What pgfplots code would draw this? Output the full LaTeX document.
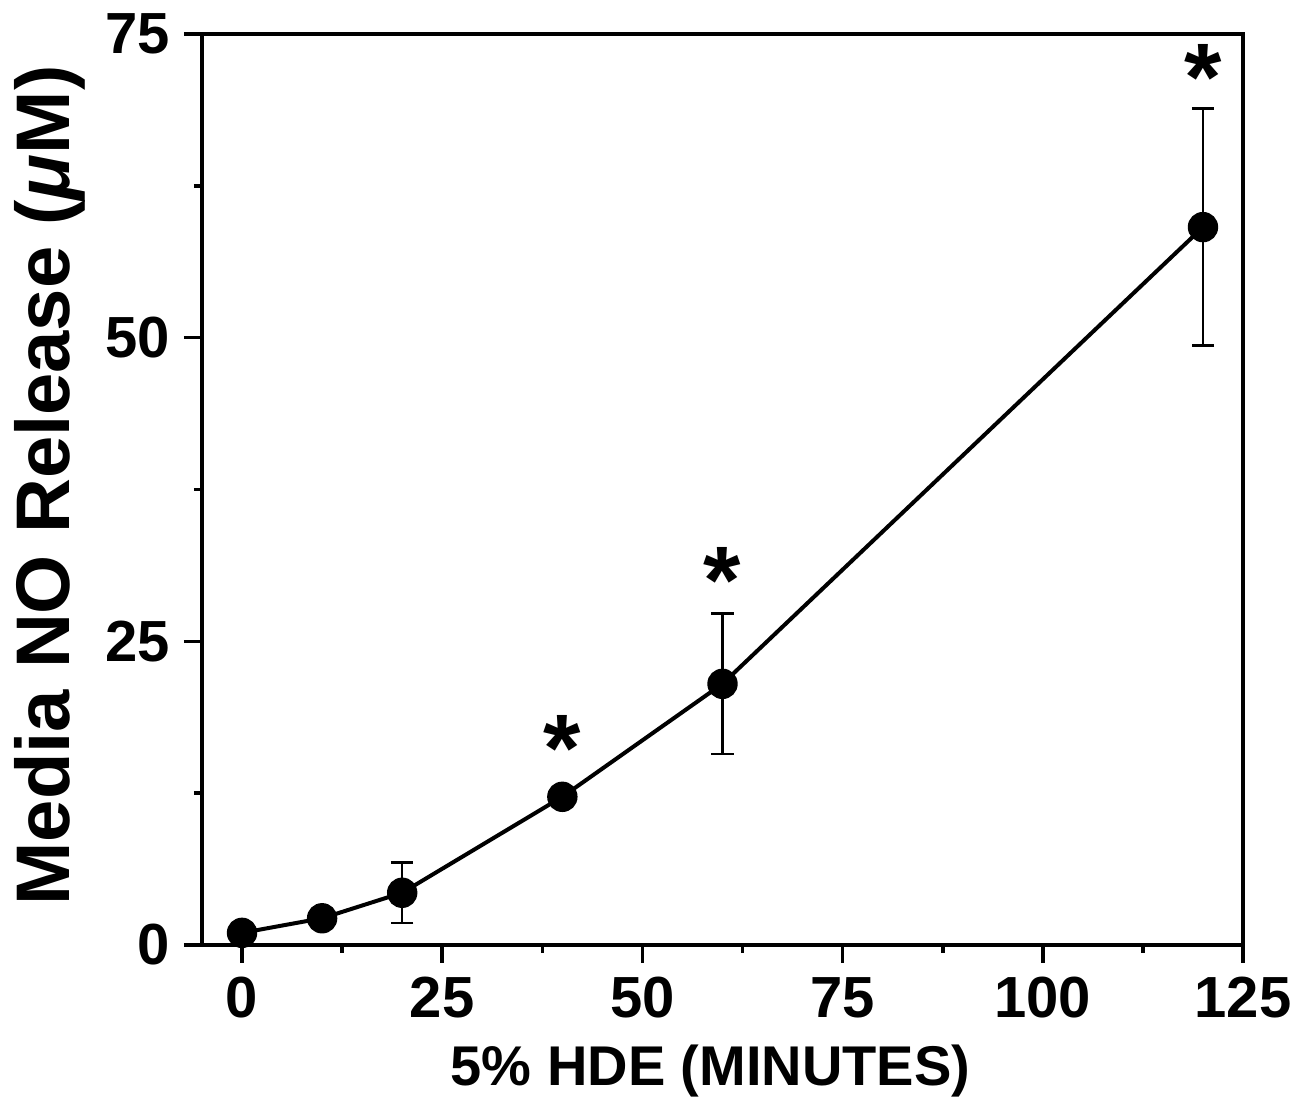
\documentclass[border=0pt]{standalone}
\usepackage{fontspec}
\setmainfont{Liberation Sans}
\usepackage{pgfplots}
\pgfplotsset{compat=1.18}
\begin{document}
\begin{tikzpicture}
\begin{axis}[
  scale only axis,
  width=260.25pt, height=227.75pt,
  xmin=-5, xmax=125, ymin=0, ymax=75,
  xtick={0,25,50,75,100,125},
  ytick={0,25,50,75},
  minor x tick num=1, minor y tick num=1,
  tick pos=left, tick align=outside,
  major tick length=4.5pt, minor tick length=2pt,
  every tick/.style={black, line width=0.9pt},
  axis line style={line width=1pt},
  /pgf/number format/assume math mode=true,
  tick label style={font=\fontsize{14.5}{16}\selectfont\bfseries},
  xticklabel style={yshift=0pt},
  xlabel={5\% HDE (MINUTES)},
  ylabel={Media NO Release (\textit{μ}M)},
  xlabel style={font=\fontsize{14}{16}\selectfont\bfseries, at={([xshift=-3pt,yshift=-21.5pt]axis description cs:0.5,0)}, anchor=north},
  ylabel style={font=\fontsize{19}{22}\selectfont\bfseries, at={([xshift=-38pt,yshift=1pt]axis description cs:0,0.5)}, anchor=center},
  clip=false,
]
\addplot[black, line width=1pt, mark=*, mark size=3.3pt, mark options={fill=black, draw=black},
  error bars/.cd, y dir=both, y explicit,
  error bar style={line width=0.6pt},
  error mark options={rotate=90, mark size=2.8pt, line width=0.6pt}]
  coordinates {
  (0,1.0) +- (0,0)
  (10,2.2) +- (0,0)
  (20,4.3) +- (0,2.5)
  (40,12.2) +- (0,0)
  (60,21.5) +- (0,5.8)
  (120,59.1) +- (0,9.75)
};
\addplot[draw=none, mark=none, nodes near coords={*},
  every node near coord/.style={anchor=center, font=\fontsize{24}{24}\selectfont\bfseries}]
  coordinates {(40,16.2) (60,30.0) (120,71.4)};
\end{axis}
\pgfresetboundingbox
\path (current axis.south west) ++(-50.5pt,-39pt) rectangle ++(326.25pt,275.25pt);
\end{tikzpicture}
\end{document}
